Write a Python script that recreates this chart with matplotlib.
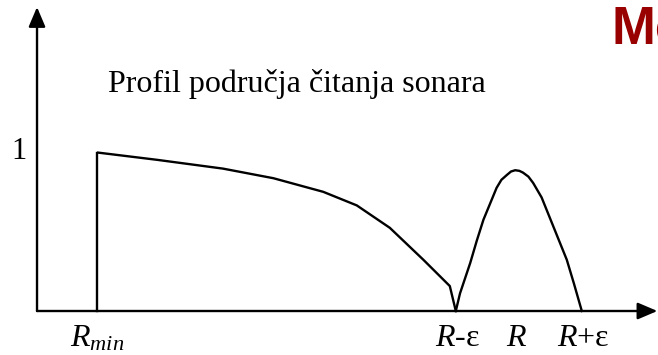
import matplotlib
matplotlib.use('Agg')
import matplotlib.pyplot as plt

plt.rcParams['mathtext.fontset'] = 'custom'
plt.rcParams['mathtext.rm'] = 'Liberation Serif'
plt.rcParams['mathtext.it'] = 'Liberation Serif:italic'

# sonar reading profile: range on x, relative value on y
r_min = 1.0
r_lo = 7.0      # R - eps
r_mid = 8.0     # R
r_hi = 9.1      # R + eps

near_x = [1.02, 2.00, 3.10, 3.94, 4.77, 5.33, 5.88, 6.44, 6.88, 6.98]
near_y = [0.99, 0.945, 0.89, 0.83, 0.745, 0.66, 0.52, 0.32, 0.156, 0.0]

hump_x = [6.98, 7.05, 7.22, 7.33, 7.44, 7.55, 7.66, 7.74, 7.83, 7.90, 7.97,
          8.04, 8.10, 8.19, 8.27, 8.41, 8.55, 8.69, 8.83, 8.95, 9.08]
hump_y = [0.0, 0.11, 0.30, 0.44, 0.57, 0.67, 0.77, 0.82, 0.85, 0.872, 0.88,
          0.876, 0.865, 0.84, 0.80, 0.71, 0.58, 0.45, 0.32, 0.17, 0.0]

tick_pos = [r_min, r_lo, r_mid, r_hi]
tick_txt = [r'$R_{min}$', r'$R$-ε', r'$R$', r'$R$+ε']

fig = plt.figure(figsize=(6.58, 3.55), dpi=100)
ax = fig.add_axes([0, 0, 1, 1])
ax.set_xlim(-0.617, 10.35)
ax.set_ylim(-0.275, 1.944)
ax.axis('off')

lw = 1.7
head = '-|>,head_length=0.4,head_width=0.17'
# axes with arrow heads
ax.annotate('', xy=(10.34, 0), xytext=(0, 0), annotation_clip=False,
            arrowprops=dict(arrowstyle=head, color='k', lw=lw,
                            mutation_scale=30, shrinkA=0, shrinkB=0))
ax.annotate('', xy=(0, 1.90), xytext=(0, 0), annotation_clip=False,
            arrowprops=dict(arrowstyle=head, color='k', lw=lw,
                            mutation_scale=30, shrinkA=0, shrinkB=0))

ax.plot([r_min, r_min], [0, near_y[0]], color='k', lw=lw)
ax.plot(near_x, near_y, color='k', lw=lw, solid_joinstyle='round')
ax.plot(hump_x, hump_y, color='k', lw=lw, solid_joinstyle='round')

serif = 'Liberation Serif'
ax.text(1.18, 1.37, 'Profil područja čitanja sonara', family=serif,
        fontsize=23, ha='left', va='baseline')
ax.text(-0.3, 1.0, '1', family=serif, fontsize=22, ha='center', va='center')

for x, t in zip(tick_pos, tick_txt):
    ax.text(x, -0.22, t, family=serif, fontsize=23,
            ha='center', va='baseline')

ax.text(9.58, 1.675, 'Mo', family='Liberation Sans', weight='bold',
        fontsize=38, color='#990000', ha='left', va='baseline')

fig.savefig('out.png', dpi=100)
